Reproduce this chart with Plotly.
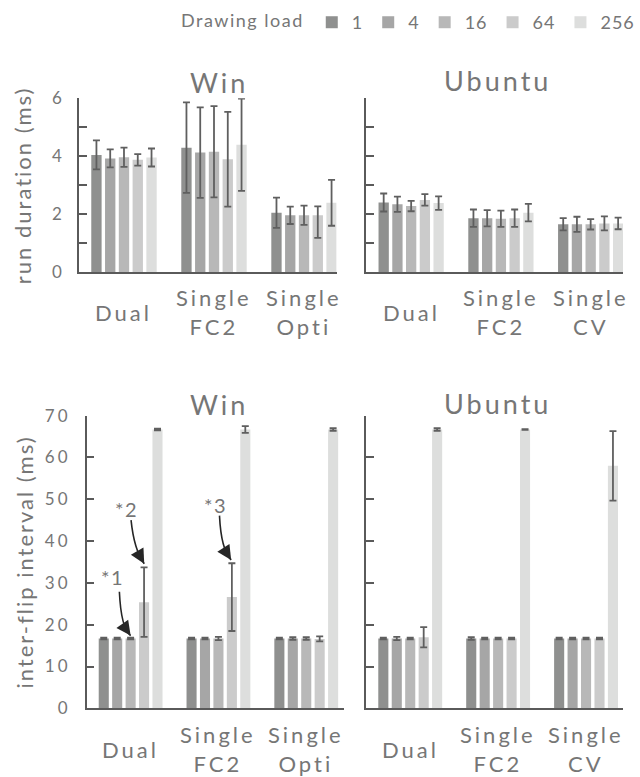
import plotly.graph_objects as go

# ---- data -------------------------------------------------------------
LOADS = ["1", "4", "16", "64", "256"]
BAR_COLORS = ["#8f908f", "#a6a6a6", "#b8b8b8", "#cbcbcb", "#dddedd"]

WIN_CONFIGS = ["Dual", "Single FC2", "Single Opti"]
UBU_CONFIGS = ["Dual", "Single FC2", "Single CV"]

# run duration (ms): one row per drawing load, one value per configuration
WIN_RUN = [[4.05, 4.30, 2.06], [3.93, 4.13, 1.97], [3.97, 4.16, 1.97],
           [3.88, 3.90, 1.97], [3.96, 4.40, 2.40]]
WIN_RUN_ERR = [[0.50, 1.56, 0.52], [0.31, 1.56, 0.30], [0.33, 1.57, 0.33],
               [0.20, 1.63, 0.31], [0.31, 1.59, 0.79]]
WIN_RUN_ERR_LOW = [[0.50, 1.56, 0.52], [0.31, 1.56, 0.30], [0.33, 1.57, 0.33],
                   [0.20, 1.63, 0.78], [0.31, 1.59, 0.79]]

UBU_RUN = [[2.41, 1.87, 1.66], [2.35, 1.87, 1.66], [2.29, 1.85, 1.66],
           [2.50, 1.87, 1.69], [2.39, 2.06, 1.69]]
UBU_RUN_ERR = [[0.31, 0.30, 0.21], [0.26, 0.28, 0.26], [0.18, 0.28, 0.18],
               [0.20, 0.30, 0.24], [0.23, 0.30, 0.20]]

# inter-flip interval (ms)
WIN_FLIP = [[16.7, 16.7, 16.7], [16.7, 16.7, 16.7], [16.7, 16.7, 16.7],
            [25.4, 26.6, 16.6], [66.7, 66.7, 66.7]]
WIN_FLIP_ERR = [[0.2, 0.2, 0.2], [0.2, 0.2, 0.3], [0.2, 0.4, 0.3],
                [8.3, 8.1, 0.6], [0.2, 0.8, 0.3]]

UBU_FLIP = [[16.7, 16.7, 16.7], [16.7, 16.7, 16.7], [16.7, 16.7, 16.7],
            [17.0, 16.7, 16.7], [66.7, 66.7, 58.0]]
UBU_FLIP_ERR = [[0.2, 0.3, 0.2], [0.4, 0.2, 0.2], [0.2, 0.2, 0.2],
                [2.4, 0.2, 0.2], [0.3, 0.1, 8.3]]

RUN_TICKS = [0, 1, 2, 3, 4, 5, 6]
RUN_TICK_TEXT = ["0", "", "2", "", "4", "", "6"]
FLIP_TICKS = [0, 10, 20, 30, 40, 50, 60, 70]

# ---- styling ----------------------------------------------------------
FONT = "Lato"
TEXT = "#767676"
AXIS = "#5a5a5a"
ERR = "#5f5f5f"


def spaced(s, px=3):
    return f"<span style='letter-spacing:{px}px'>{s}</span>"


fig = go.Figure()

panels = [
    dict(xa="x", ya="y", cats=WIN_CONFIGS, mean=WIN_RUN, up=WIN_RUN_ERR, low=WIN_RUN_ERR_LOW),
    dict(xa="x2", ya="y2", cats=UBU_CONFIGS, mean=UBU_RUN, up=UBU_RUN_ERR, low=UBU_RUN_ERR),
    dict(xa="x3", ya="y3", cats=WIN_CONFIGS, mean=WIN_FLIP, up=WIN_FLIP_ERR, low=WIN_FLIP_ERR),
    dict(xa="x4", ya="y4", cats=UBU_CONFIGS, mean=UBU_FLIP, up=UBU_FLIP_ERR, low=UBU_FLIP_ERR),
]

for pi, p in enumerate(panels):
    for k, load in enumerate(LOADS):
        fig.add_trace(go.Bar(
            x=p["cats"], y=p["mean"][k],
            xaxis=p["xa"], yaxis=p["ya"],
            name=spaced(load, 1), legendgroup=load, showlegend=(pi == 0),
            marker=dict(color=BAR_COLORS[k], line=dict(width=0)),
            error_y=dict(type="data", symmetric=False,
                         array=p["up"][k], arrayminus=p["low"][k],
                         color=ERR, thickness=1.8, width=3.5),
        ))


def x_axis(domain, rng, anchor):
    return dict(domain=domain, range=rng, anchor=anchor, type="category",
                showline=True, linecolor=AXIS, linewidth=1.5, ticks="",
                showticklabels=False, showgrid=False, zeroline=False,
                automargin=False)


def y_axis(domain, rng, anchor, vals, text, labels, standoff=0, title=None, title_gap=0):
    ax = dict(domain=domain, range=rng, anchor=anchor,
              showline=True, linecolor=AXIS, linewidth=1.5,
              ticks="inside", ticklen=8, tickwidth=1.5, tickcolor=AXIS,
              tickmode="array", tickvals=vals,
              ticktext=[spaced(t, 3) if t else "" for t in text],
              showticklabels=labels, ticklabelstandoff=standoff,
              showgrid=False, zeroline=False,
              tickfont=dict(size=17, color=TEXT), automargin=False)
    if title:
        ax["title"] = dict(text=spaced(title, 2), font=dict(size=22, color=TEXT),
                           standoff=title_gap)
    return ax


TOP = [0.6493, 0.8735]
BOT = [0.0884, 0.4650]

fig.update_layout(
    xaxis=x_axis([0.1234, 0.5258], [-0.5, 2.361], "y"),
    xaxis2=x_axis([0.5723, 0.9734], [-0.5, 2.36], "y2"),
    xaxis3=x_axis([0.1355, 0.5375], [-0.5, 2.43], "y3"),
    xaxis4=x_axis([0.5723, 0.9734], [-0.5, 2.42], "y4"),
    yaxis=y_axis(TOP, [0, 6], "x", RUN_TICKS, RUN_TICK_TEXT, True, 9,
                 "run duration (ms)", 14),
    yaxis2=y_axis(TOP, [0, 6], "x2", RUN_TICKS, RUN_TICK_TEXT, False),
    yaxis3=y_axis(BOT, [0, 70], "x3", FLIP_TICKS, [str(v) for v in FLIP_TICKS], True, 11,
                  "inter-flip interval (ms)", 5),
    yaxis4=y_axis(BOT, [0, 70], "x4", FLIP_TICKS, [str(v) for v in FLIP_TICKS], False),
)

annotations = []

# configuration labels under each group
for xa, cats, ypos in [("x", WIN_CONFIGS, 0.598), ("x2", UBU_CONFIGS, 0.598),
                       ("x3", WIN_CONFIGS, 0.036), ("x4", UBU_CONFIGS, 0.036)]:
    for i, c in enumerate(cats):
        annotations.append(dict(
            x=i, xref=xa, y=ypos, yref="paper", yanchor="middle",
            text="<br>".join(spaced(w, 3) for w in c.split(" ")),
            showarrow=False, font=dict(size=22, color=TEXT)))

# panel titles
for txt, x, y in [("Win", 0.342, 0.894), ("Ubuntu", 0.7775, 0.8958),
                  ("Win", 0.342, 0.480), ("Ubuntu", 0.7775, 0.4813)]:
    annotations.append(dict(x=x, y=y, xref="paper", yref="paper",
                            xanchor="center", yanchor="middle",
                            text=spaced(txt, 3), showarrow=False,
                            font=dict(size=27, color=TEXT)))

# marked bars in the Win inter-flip panel: label, label pos, curve start, control, tip
MARKS = [
    ("*1", (-0.21, 31.4), (-0.128, 27.9), (-0.109, 19.2), (0.0, 17.4)),
    ("*2", (-0.05, 47.7), (0.005, 45.0), (0.039, 37.9), (0.155, 34.6)),
    ("*3", (0.963, 48.6), (1.012, 46.1), (1.031, 37.9), (1.145, 35.5)),
]
shapes = []
ARROW = "#262626"
for label, lp, s, c, t in MARKS:
    annotations.append(dict(x=lp[0], y=lp[1], xref="x3", yref="y3",
                            text=spaced(label, 1.5), showarrow=False,
                            font=dict(size=20, color=TEXT)))
    shapes.append(dict(type="path", xref="x3", yref="y3",
                       path=f"M {s[0]},{s[1]} Q {c[0]},{c[1]} {t[0]},{t[1]}",
                       line=dict(color=ARROW, width=1.6)))
    # arrow head aligned with the curve's end tangent
    u = 0.7
    hx = (1 - u) ** 2 * s[0] + 2 * (1 - u) * u * c[0] + u ** 2 * t[0]
    hy = (1 - u) ** 2 * s[1] + 2 * (1 - u) * u * c[1] + u ** 2 * t[1]
    annotations.append(dict(x=t[0], y=t[1], xref="x3", yref="y3",
                            ax=hx, ay=hy, axref="x3", ayref="y3", text="",
                            showarrow=True, arrowhead=2, arrowsize=1.8,
                            arrowwidth=1.6, arrowcolor=ARROW, standoff=0))

fig.update_layout(
    annotations=annotations,
    shapes=shapes,
    template="none",
    width=640, height=777,
    margin=dict(l=0, r=0, t=0, b=0, autoexpand=False),
    paper_bgcolor="white", plot_bgcolor="white",
    font=dict(family=FONT, color=TEXT),
    barmode="group", bargap=0.235, bargroupgap=0.25,
    legend=dict(orientation="h", x=1.0, xanchor="right", y=0.971, yanchor="middle",
                title=dict(text=spaced("Drawing load", 1.5), side="left",
                           font=dict(size=18, color=TEXT)),
                font=dict(size=18, color=TEXT), itemwidth=30,
                bgcolor="rgba(0,0,0,0)", traceorder="normal"),
)

fig.write_html("out.html")
